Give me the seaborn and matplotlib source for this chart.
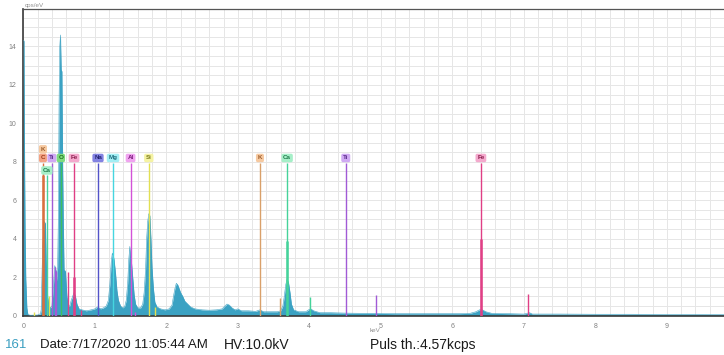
import matplotlib
matplotlib.use("Agg")
import matplotlib.pyplot as plt
import seaborn as sns
import pandas as pd

# ---------------- data ----------------
energy_kev = [0.000, 0.010, 0.015, 0.025, 0.035, 0.050, 0.065, 0.10, 0.20, 0.24,
              0.25, 0.27, 0.29, 0.31, 0.32, 0.34, 0.36, 0.38, 0.40, 0.42,
              0.44, 0.46, 0.47, 0.48, 0.49, 0.50, 0.51, 0.52, 0.53, 0.54,
              0.55, 0.56, 0.57, 0.59, 0.61, 0.63, 0.65, 0.67, 0.69, 0.71,
              0.73, 0.75, 0.78, 0.82, 0.88, 0.95, 1.00, 1.04, 1.08, 1.12,
              1.16, 1.19, 1.21, 1.23, 1.245, 1.26, 1.27, 1.29, 1.31, 1.33,
              1.36, 1.39, 1.42, 1.44, 1.46, 1.475, 1.49, 1.50, 1.515, 1.53,
              1.55, 1.57, 1.60, 1.64, 1.67, 1.69, 1.71, 1.725, 1.74, 1.755,
              1.77, 1.785, 1.80, 1.82, 1.84, 1.87, 1.92, 1.98, 2.04, 2.08,
              2.10, 2.12, 2.14, 2.16, 2.18, 2.20, 2.23, 2.26, 2.30, 2.34,
              2.40, 2.50, 2.60, 2.70, 2.78, 2.82, 2.85, 2.88, 2.92, 2.96,
              3.00, 3.05, 3.15, 3.25, 3.31, 3.36, 3.45, 3.55, 3.60, 3.63,
              3.65, 3.67, 3.69, 3.71, 3.73, 3.75, 3.78, 3.85, 3.95, 3.99,
              4.02, 4.06, 4.15, 4.30, 4.50, 4.70, 4.90, 5.20, 5.50, 5.80,
              6.10, 6.25, 6.33, 6.38, 6.42, 6.47, 6.55, 6.80, 7.00, 7.08,
              7.12, 7.50, 8.00, 8.50, 9.00, 9.50, 9.80]
cps_per_ev = [14.3, 14.3, 9.7, 4.5, 1.9, 0.40, 0.05, 0.02, 0.03, 0.10,
              0.30, 3.5, 4.9, 4.8, 2.9, 1.0, 0.5, 0.4, 0.5, 1.5,
              2.6, 2.3, 1.8, 2.5, 5.0, 11.0, 14.0, 14.6, 12.8, 12.7,
              8.0, 4.8, 2.4, 2.3, 1.0, 0.5, 0.5, 0.8, 1.0, 1.2,
              1.0, 0.6, 0.35, 0.30, 0.25, 0.30, 0.35, 0.45, 0.35, 0.40,
              0.50, 0.80, 1.6, 2.8, 3.25, 3.1, 2.9, 2.2, 1.3, 0.8,
              0.5, 0.4, 0.5, 0.8, 1.7, 2.9, 3.6, 3.0, 2.7, 2.0,
              1.1, 0.6, 0.4, 0.4, 0.6, 1.2, 2.4, 4.0, 4.9, 5.3,
              5.2, 4.0, 2.5, 1.4, 0.7, 0.45, 0.35, 0.30, 0.35, 0.55,
              1.0, 1.4, 1.68, 1.6, 1.4, 1.2, 1.0, 0.75, 0.6, 0.45,
              0.35, 0.30, 0.28, 0.30, 0.35, 0.50, 0.60, 0.55, 0.40, 0.30,
              0.35, 0.25, 0.25, 0.22, 0.30, 0.20, 0.20, 0.20, 0.25, 0.50,
              1.0, 1.6, 1.9, 1.7, 1.2, 0.6, 0.3, 0.2, 0.2, 0.3,
              0.35, 0.25, 0.15, 0.15, 0.13, 0.12, 0.12, 0.10, 0.10, 0.10,
              0.10, 0.12, 0.20, 0.30, 0.30, 0.20, 0.12, 0.10, 0.08, 0.15,
              0.08, 0.08, 0.07, 0.07, 0.06, 0.06, 0.05]

# labelled element markers
marker_labels = ["K", "C", "Ca", "Ti", "O", "Fe", "Na", "Mg", "Al", "Si", "K", "Ca", "Ti", "Fe"]
marker_kev = [0.275, 0.275, 0.33, 0.40, 0.525, 0.71, 1.045, 1.255, 1.50, 1.755, 3.31, 3.69, 4.51, 6.40]
marker_label_y = [8.65, 8.2, 7.55, 8.2, 8.2, 8.2, 8.2, 8.2, 8.2, 8.2, 8.2, 8.2, 8.2, 8.2]
marker_top = [0.0, 7.95, 7.3, 7.95, 7.95, 7.95, 7.95, 7.95, 7.95, 7.95, 7.95, 7.95, 7.95, 7.95]

# intensity segments of the main lines
strong_kev = [0.275, 0.71, 3.69, 6.40]
strong_height = [7.3, 2.0, 3.9, 4.0]
strong_element = ["C", "Fe", "Ca", "Fe"]

# secondary (minor) lines
minor_kev = [0.15, 0.36, 0.445, 0.463, 0.62, 0.80, 1.56, 1.84, 3.59, 4.01, 4.93, 7.06]
minor_height = [0.2, 1.0, 2.55, 2.3, 2.25, 0.3, 0.2, 0.45, 0.93, 0.95, 1.07, 1.1]
minor_element = ["Si", "Si", "Ti", "Ti", "Fe", "Fe", "Al", "Si", "K", "Ca", "Ti", "Fe"]

line_colors = {"K": "#d9a06a", "C": "#d8703e", "Ca": "#45d39a", "Ti": "#a15ad6",
               "O": "#3cc060", "Fe": "#e03f85", "Na": "#5353c9", "Mg": "#45d6e0",
               "Al": "#d452d8", "Si": "#e2e052"}
box_colors = {"K": "#f6c9a0", "C": "#f4a384", "Ca": "#a6efc8", "Ti": "#cfa9f3",
              "O": "#7edb7e", "Fe": "#f4a9cd", "Na": "#8383e2", "Mg": "#a3eef4",
              "Al": "#f0a3f0", "Si": "#f5f3a3"}
text_colors = {"K": "#9a5a2a", "C": "#9a3a1a", "Ca": "#1f7a4a", "Ti": "#5a2a8a",
               "O": "#1a6a1a", "Fe": "#8a1a4a", "Na": "#202070", "Mg": "#1a6a7a",
               "Al": "#7a1a7a", "Si": "#7a7a1a"}

x_ticks = [0, 1, 2, 3, 4, 5, 6, 7, 8, 9]
y_ticks = [0, 2, 4, 6, 8, 10, 12, 14]

# ---------------- figure ----------------
sns.set_style("white")
plt.rcParams["font.family"] = ["Liberation Sans", "DejaVu Sans"]

fig = plt.figure(figsize=(7.24, 3.55), dpi=100)
ax = fig.add_axes([23.3 / 724, (355 - 315.6) / 355, (724 - 23.3) / 724, (315.6 - 9) / 355])

df = pd.DataFrame({"keV": energy_kev, "cps": cps_per_ev})
spec_color = "#3ba2c3"
ax.fill_between(df["keV"], 0, df["cps"], color=spec_color, lw=0, zorder=2)
sns.lineplot(data=df, x="keV", y="cps", ax=ax, color=spec_color, lw=0.4, zorder=3)

# minor lines
for k, h, el in zip(minor_kev, minor_height, minor_element):
    ax.vlines(k, 0, h, color=line_colors[el], lw=1.0, zorder=4)
# strong segments
for k, h, el in zip(strong_kev, strong_height, strong_element):
    ax.vlines(k, 0, h, color=line_colors[el], lw=1.8, zorder=4)
# main labelled lines
for lab, k, ly, top in zip(marker_labels, marker_kev, marker_label_y, marker_top):
    if top > 0:
        ax.vlines(k, 0, top, color=line_colors[lab], lw=1.0, zorder=4)
    ax.text(k, ly, lab, fontsize=4.5, color=text_colors[lab], ha="center", va="center",
            zorder=6, fontweight="bold",
            bbox=dict(boxstyle="round,pad=0.28", fc=box_colors[lab], ec="none"))

ax.set_xlim(0, 9.80)
ax.set_ylim(0, 15.95)
ax.set_xticks(x_ticks)
ax.set_xticks([i * 0.2 for i in range(0, 50)], minor=True)
ax.set_yticks(y_ticks)
ax.set_yticks([i * 0.5 for i in range(0, 32)], minor=True)
ax.set_xticklabels([str(v) for v in x_ticks])
ax.set_yticklabels([str(v) for v in y_ticks])
ax.grid(True, which="both", color="#e6e6e6", lw=0.7, zorder=0)
ax.set_axisbelow(True)
ax.tick_params(axis="both", which="major", labelsize=5, labelcolor="#808080",
               color="#444444", length=3, width=0.8, pad=2)
ax.tick_params(axis="both", which="minor", color="#444444", length=2, width=0.6)
ax.set_xlabel("")
ax.set_ylabel("")
for side in ["left", "bottom"]:
    ax.spines[side].set_color("#3a3a3a")
    ax.spines[side].set_linewidth(1.2)
ax.spines["top"].set_color("#555555")
ax.spines["top"].set_linewidth(0.9)
ax.spines["right"].set_visible(False)

fig.text(25 / 724, 1 - 5 / 355, "cps/eV", fontsize=4.5, color="#909090", ha="left", va="center")
fig.text(375 / 724, 1 - 330 / 355, "keV", fontsize=4.5, color="#909090", ha="center", va="center")

ty = 1 - 345 / 355
fig.text(5 / 724, ty, "161", fontsize=9.5, color="#3a9ec0", ha="left", va="center")
fig.text(40 / 724, ty, "Date:7/17/2020 11:05:44 AM", fontsize=9.5, color="#1a1a1a",
         ha="left", va="center")
fig.text(224 / 724, ty, "HV:10.0kV", fontsize=10, color="#1a1a1a", ha="left", va="center")
fig.text(370 / 724, ty, "Puls th.:4.57kcps", fontsize=10, color="#1a1a1a",
         ha="left", va="center")

fig.savefig("out.png", dpi=100)
